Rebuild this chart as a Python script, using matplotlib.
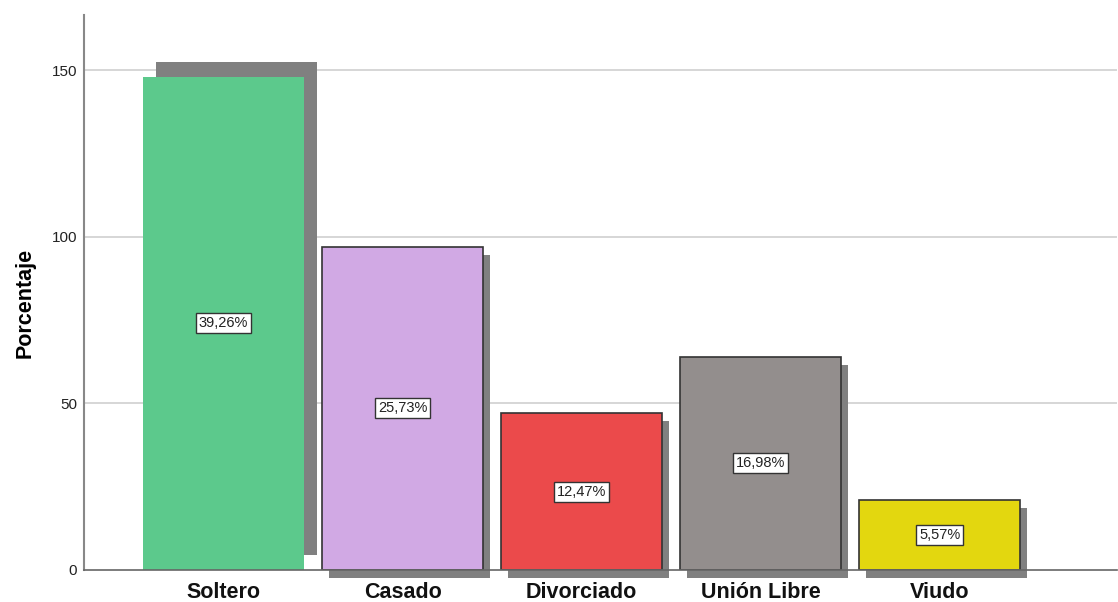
import matplotlib
matplotlib.use("Agg")
import matplotlib.pyplot as plt
import numpy as np

plt.rcParams["font.family"] = ["Liberation Sans", "DejaVu Sans"]

categories = ["Soltero", "Casado", "Divorciado", "Unión Libre", "Viudo"]
counts = [148, 97, 47, 64, 21]
colors = ["#5CC98C", "#D1A9E4", "#EB4A4B", "#938E8D", "#E3D70F"]
y_ticks = [0, 50, 100, 150]

total = sum(counts)
x = np.arange(len(categories))
width = 0.9

fig = plt.figure(figsize=(11.18, 6.02), dpi=100)
ax = fig.add_axes([0.0751, 0.0532, 0.9240, 0.9218])
ax.set_xlim(-0.78, 4.99)
ax.set_ylim(0, 166.5)

# drop shadows behind each bar
for i, v in enumerate(counts):
    if i == 0:
        dx, dy = 0.073, 4.4
    else:
        dx, dy = 0.039, -2.4
    ax.bar(x[i] + dx, v, width=width, bottom=dy, color="#808080",
           edgecolor="none", zorder=2, clip_on=False)

# bars
for i, v in enumerate(counts):
    ec = "none" if i == 0 else "#333333"
    ax.bar(x[i], v, width=width, color=colors[i], edgecolor=ec,
           linewidth=1.2, zorder=3)
    pct = f"{v / total * 100:.2f}%".replace(".", ",")
    ax.text(x[i], v / 2, pct, ha="center", va="center", fontsize=10.5,
            color="#222222", zorder=5,
            bbox=dict(boxstyle="square,pad=0.2", facecolor="white",
                      edgecolor="#333333", linewidth=1.0))

ax.set_yticks(y_ticks)
ax.set_yticklabels([str(t) for t in y_ticks], fontsize=11, color="#222222")
ax.tick_params(axis="y", length=0, pad=5)
for t in y_ticks[1:]:
    ax.axhline(t, color="#D0D0D0", linewidth=1.2, zorder=1)

ax.set_xticks(x)
ax.set_xticklabels(categories, fontsize=15.5, fontweight="bold", color="#111111")
ax.tick_params(axis="x", length=0, pad=9)

ax.set_ylabel("Porcentaje", fontsize=15.5, fontweight="bold")
ax.yaxis.set_label_coords(-0.047, 0.482)

for side in ["top", "right"]:
    ax.spines[side].set_visible(False)
ax.spines["left"].set_color("#888888")
ax.spines["left"].set_linewidth(1.5)
ax.spines["bottom"].set_color("#666666")
ax.spines["bottom"].set_linewidth(1.2)
ax.spines["bottom"].set_zorder(4)

fig.savefig("out.png", dpi=100, facecolor="white")
